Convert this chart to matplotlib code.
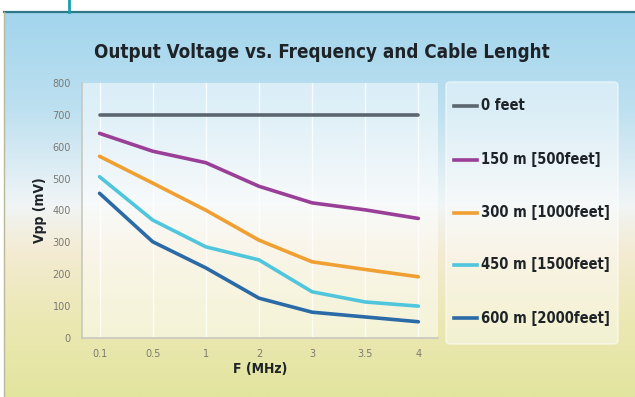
import matplotlib.pyplot as plt
import numpy as np
from matplotlib.colors import LinearSegmentedColormap
from matplotlib.patches import FancyBboxPatch

freqs = ['0.1', '0.5', '1', '2', '3', '3.5', '4']
labels = ['0 feet', '150 m [500feet]', '300 m [1000feet]',
          '450 m [1500feet]', '600 m [2000feet]']
v_0ft   = [700, 700, 700, 700, 700, 700, 700]
v_150m  = [642, 586, 550, 476, 424, 402, 375]
v_300m  = [570, 486, 401, 307, 239, 215, 192]
v_450m  = [506, 370, 286, 245, 145, 113, 100]
v_600m  = [454, 302, 220, 125, 81, 66, 51]
series = [v_0ft, v_150m, v_300m, v_450m, v_600m]
colors = ['#5b6670', '#9a3f98', '#f0a032', '#4fc6dc', '#2a6aa6']

bold = dict(family='DejaVu Sans', fontweight='bold', fontstretch='condensed')

W, H = 635, 397
fig = plt.figure(figsize=(W / 100, H / 100), dpi=100)
fig.patch.set_facecolor('white')

# background panel with vertical gradient
top = 12
bg = fig.add_axes([4 / W, 0, 1 - 4 / W, (H - top) / H])
cmap = LinearSegmentedColormap.from_list('bg', [
    (0.0, '#a2d5ed'), (0.25, '#bde0f0'), (0.5, '#f0f5f6'),
    (0.62, '#f4ebd3'), (0.8, '#ece8b4'), (1.0, '#e2e59e')])
grad = np.linspace(0, 1, 256).reshape(-1, 1)
bg.imshow(grad, aspect='auto', cmap=cmap, extent=[0, 1, 0, 1], origin='upper')
bg.set_axis_off()
fig.add_artist(plt.Line2D([4 / W, 1], [(H - top) / H] * 2, color='#2f7787', lw=1.6))
fig.add_artist(plt.Line2D([4 / W] * 2, [0, (H - top) / H], color='#b8b89a', lw=1.0))
fig.add_artist(plt.Line2D([69 / W] * 2, [(H - top) / H, 1], color='#15a0b0', lw=2))

fig.text(322 / W, 1 - 53 / H, 'Output Voltage vs. Frequency and Cable Lenght',
         ha='center', va='center', fontsize=13.5, color='#1e2328', **bold)

# main chart
x0, x1, y0, y1 = 82, 438, 83, 338
ax = fig.add_axes([x0 / W, 1 - y1 / H, (x1 - x0) / W, (y1 - y0) / H])
ax.set_facecolor((1, 1, 1, 0.5))
x = np.arange(len(freqs))
for vals, c, lab in zip(series, colors, labels):
    ax.plot(x, vals, color=c, lw=2.6, label=lab, solid_capstyle='round')
ax.set_xlim(-0.33, len(freqs) - 1 + 0.37)
ax.set_ylim(0, 800)
ax.set_yticks(range(0, 801, 100))
ax.set_xticks(x)
ax.set_xticklabels(freqs)
for s in ['top', 'right']:
    ax.spines[s].set_visible(False)
for s in ['left', 'bottom']:
    ax.spines[s].set_color('#c8c8c0')
    ax.spines[s].set_linewidth(1.2)
ax.tick_params(length=0, labelsize=7, labelcolor='#7a7a72', pad=8)
ax.grid(axis='x', color='white', lw=1.0, alpha=0.8)
ax.set_axisbelow(True)
ax.set_xlabel('F (MHz)', fontsize=10, color='#1e2328', labelpad=2, **bold)
ax.set_ylabel('Vpp (mV)', fontsize=10, color='#1e2328', labelpad=4, **bold)

# legend box
box = FancyBboxPatch((446 / W, 1 - 344 / H), 172 / W, 262 / H,
                     boxstyle='round,pad=0,rounding_size=0.008',
                     transform=fig.transFigure, facecolor=(1, 1, 1, 0.45),
                     edgecolor=(1, 1, 1, 0.6), lw=1)
fig.add_artist(box)
ypos = [106, 160, 213, 265, 318]
for yy, c, lab in zip(ypos, colors, labels):
    fig.add_artist(plt.Line2D([454 / W, 477 / W], [1 - yy / H] * 2, color=c, lw=2.6))
    fig.text(481 / W, 1 - yy / H, lab, ha='left', va='center', fontsize=10.5,
             color='#1e2328', **bold)

fig.savefig('out.png', dpi=100)
